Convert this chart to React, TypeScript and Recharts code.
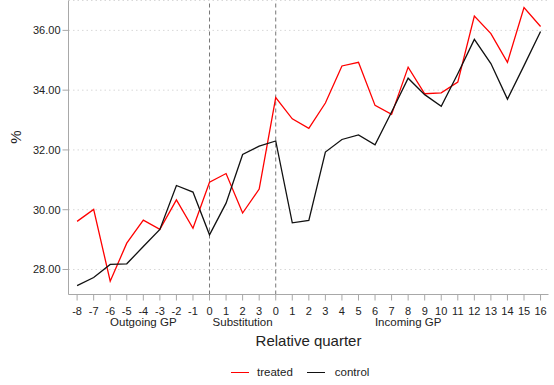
import React from 'react';
import { LineChart, Line, XAxis, YAxis, CartesianGrid, ReferenceLine, Legend } from 'recharts';

// Relative quarter labels: outgoing GP (-8..-1), substitution (0..3), incoming GP (0..16)
const quarterLabels = [
  '-8', '-7', '-6', '-5', '-4', '-3', '-2', '-1',
  '0', '1', '2', '3',
  '0', '1', '2', '3', '4', '5', '6', '7', '8', '9', '10', '11', '12', '13', '14', '15', '16',
];

const treated = [
  29.61, 30.01, 27.61, 28.88, 29.65, 29.34, 30.33, 29.38,
  30.92, 31.21, 29.89, 30.69,
  33.75, 33.04, 32.72, 33.57, 34.81, 34.93, 33.49, 33.19, 34.77, 33.88, 33.91, 34.27, 36.48, 35.89, 34.93, 36.76, 36.13,
];

const control = [
  27.46, 27.73, 28.17, 28.19, 28.77, 29.34, 30.81, 30.59,
  29.16, 30.22, 31.85, 32.13,
  32.30, 29.56, 29.64, 31.93, 32.35, 32.50, 32.17, 33.27, 34.40, 33.85, 33.46, 34.55, 35.70, 34.89, 33.70, 34.82, 35.96,
];

const yTicks = [28, 30, 32, 34, 36];

// period names shown under the tick labels, keyed by quarter index
const periods = [
  { at: 4, name: 'Outgoing GP' },
  { at: 10, name: 'Substitution' },
  { at: 20, name: 'Incoming GP' },
];

// period boundaries (first quarter of substitution and of incoming GP)
const boundaries = [8, 12];

const data = quarterLabels.map((label, i) => ({ i, treated: treated[i], control: control[i] }));

const X_MIN = -0.52;
const X_MAX = 28.48;
const Y_MIN = 27.163;
const Y_MAX = 37.0;

const FONT = '"Liberation Sans", Arial, sans-serif';
const TEXT = '#222';
const AXIS = '#a8a8a8';

const QuarterTick = (props: any) => {
  const { x, y, payload } = props;
  const idx = payload.value as number;
  const period = periods.find(p => p.at === idx);
  return (
    <g>
      <text x={x} y={y + 12} textAnchor="middle" fontSize={11} fill={TEXT} fontFamily={FONT}>
        {quarterLabels[idx]}
      </text>
      {period && (
        <text x={x} y={y + 23} textAnchor="middle" fontSize={11.5} fill={TEXT} fontFamily={FONT}>
          {period.name}
        </text>
      )}
    </g>
  );
};

const LegendContent = () => (
  <div style={{ height: 30, display: 'flex', alignItems: 'center', paddingTop: 4, boxSizing: 'border-box', paddingLeft: 231, fontFamily: FONT, fontSize: 11.5, color: TEXT }}>
    <span style={{ display: 'inline-block', width: 18, height: 0, borderTop: '1.3px solid #ff0000', marginRight: 8 }} />
    <span style={{ marginRight: 14 }}>treated</span>
    <span style={{ display: 'inline-block', width: 18, height: 0, borderTop: '1.3px solid #111', marginRight: 10 }} />
    <span>control</span>
  </div>
);

export default function App() {
  return (
    <div style={{ position: 'absolute', left: 0, top: 0, background: '#fff', fontFamily: FONT }}>
      <LineChart width={554} height={385} data={data} margin={{ top: 0.5, right: 5.5, bottom: 0, left: 0 }}>
        <CartesianGrid vertical={false} stroke="#d8d8d8" strokeDasharray="1.5 3" />
        <XAxis
          type="number"
          dataKey="i"
          domain={[X_MIN, X_MAX]}
          ticks={quarterLabels.map((_, i) => i)}
          interval={0}
          height={60.5}
          axisLine={{ stroke: AXIS }}
          tickSize={6}
          tickLine={{ stroke: AXIS }}
          tick={<QuarterTick />}
          label={({ viewBox }: any) => (
            <text x={viewBox.x + viewBox.width / 2} y={viewBox.y + 51.5} textAnchor="middle" fontSize={15} fill={TEXT} fontFamily={FONT}>
              Relative quarter
            </text>
          )}
        />
        <YAxis
          type="number"
          domain={[Y_MIN, Y_MAX]}
          ticks={yTicks}
          width={68.5}
          axisLine={{ stroke: AXIS }}
          tickSize={6}
          tickLine={{ stroke: AXIS }}
          tick={{ fontSize: 11, fill: TEXT, fontFamily: FONT }}
          tickFormatter={(v: number) => v.toFixed(2)}
          label={({ viewBox }: any) => (
            <text x={viewBox.x + 21} y={137} textAnchor="middle" fontSize={15} fill={TEXT} fontFamily={FONT} transform={`rotate(-90, ${viewBox.x + 21}, 137)`}>
              %
            </text>
          )}
        />
        {boundaries.map(b => (
          <ReferenceLine key={b} x={b} stroke="#777" strokeDasharray="4 3" />
        ))}
        <Line type="linear" dataKey="treated" stroke="#ff0000" strokeWidth={1.3} dot={false} isAnimationActive={false} />
        <Line type="linear" dataKey="control" stroke="#111" strokeWidth={1.3} dot={false} isAnimationActive={false} />
        <Legend verticalAlign="bottom" height={30} content={<LegendContent />} />
      </LineChart>
    </div>
  );
}
